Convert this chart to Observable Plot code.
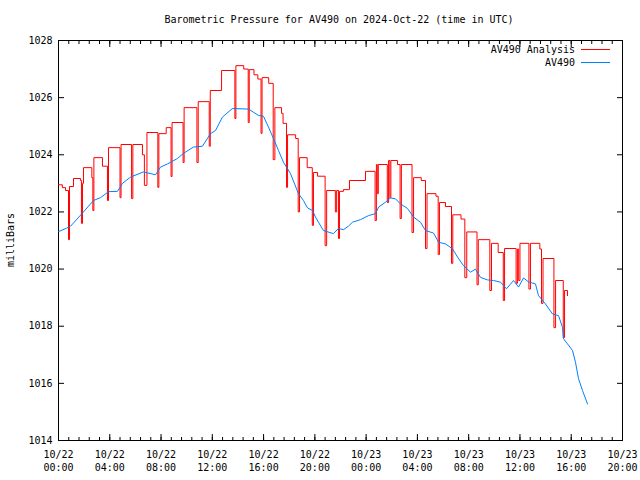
<!DOCTYPE html>
<html><head><meta charset="utf-8">
<script src="https://cdn.jsdelivr.net/npm/d3@7"></script>
<script src="https://cdn.jsdelivr.net/npm/@observablehq/plot@0.6"></script>
<style>body{margin:0;background:#fff} svg{display:block}</style>
</head><body><div id="chart"></div>
<script>
// hours since 2024-10-22 00:00 UTC
const analysisHours = [0,0.30,0.55,0.78,0.86,1.17,1.72,1.79,1.87,1.95,2.60,2.68,2.76,3.43,3.82,3.90,4.80,4.88,5.70,5.80,6.55,6.70,6.90,7.75,7.83,8.40,8.78,8.86,9.72,9.80,10.80,10.90,11.76,11.84,12.72,13.76,13.84,14.45,14.80,14.88,15.25,15.55,15.80,15.88,16.40,16.75,16.88,17.40,17.52,17.79,17.87,18.50,18.70,18.80,19.40,19.80,19.89,20.21,20.80,20.92,21.60,21.70,21.84,21.92,22.23,22.70,23.95,24.70,24.80,24.87,24.95,25.65,25.75,25.85,25.93,26.45,26.65,26.75,27.58,27.70,28.30,28.63,28.75,29.45,29.62,29.72,30.19,30.66,30.76,31.40,31.70,31.85,32.65,32.75,33.65,33.78,34.30,34.70,34.80,35.70,35.80,35.90,36.00,36.70,36.82,37.55,37.68,37.80,38.65,38.78,39.38,39.48,39.71];
const analysisValues = [1022.95,1022.85,1022.75,1021.03,1022.89,1023.17,1023.10,1021.60,1023.00,1023.55,1023.20,1022.05,1023.90,1023.60,1022.40,1024.25,1022.50,1024.36,1022.47,1024.36,1024.00,1022.93,1024.78,1022.86,1024.74,1024.95,1023.24,1025.13,1023.73,1025.65,1023.73,1025.86,1024.30,1026.25,1026.95,1025.27,1027.12,1027.00,1025.13,1026.98,1026.80,1026.65,1024.75,1026.70,1026.50,1023.83,1025.65,1025.45,1025.10,1022.86,1024.70,1024.57,1022.00,1023.90,1023.55,1021.53,1023.38,1023.25,1020.82,1022.75,1022.00,1022.75,1021.07,1022.72,1022.78,1023.10,1023.42,1021.70,1023.66,1022.64,1023.66,1022.33,1023.80,1022.50,1023.80,1023.66,1021.77,1023.66,1021.28,1023.20,1023.10,1020.72,1022.64,1022.55,1020.51,1022.33,1022.19,1020.20,1021.90,1021.75,1019.70,1021.30,1019.45,1021.03,1019.25,1020.90,1020.58,1018.90,1020.72,1019.50,1020.70,1019.60,1020.90,1019.30,1020.90,1020.70,1018.80,1020.37,1017.95,1019.60,1017.60,1019.25,1019.07];
const stationHours = [0,0.62,0.94,1.95,2.73,3.28,3.90,4.60,4.99,5.62,6.63,7.57,7.96,8.50,9.28,9.75,10.53,11.23,11.86,12.25,12.79,13.57,14.82,15.60,15.99,16.38,16.77,17.16,17.55,18.10,18.72,19.11,19.43,19.82,20.05,20.28,20.67,21.45,21.84,22.23,22.62,22.94,23.56,24.18,24.73,24.97,25.51,25.90,26.29,26.68,27.23,27.70,28.24,28.63,29.26,29.65,30.19,30.74,31.13,31.60,32.14,32.53,32.92,33.47,33.94,34.49,34.95,35.50,35.89,36.28,36.67,37.21,37.45,37.99,38.54,39.01,39.32,39.40,39.71,40.10,40.33,40.57,40.88,41.27];
const stationValues = [1021.31,1021.43,1021.5,1022.0,1022.4,1022.5,1022.71,1022.72,1023.0,1023.22,1023.4,1023.3,1023.57,1023.68,1023.87,1024.05,1024.27,1024.3,1024.74,1024.85,1025.32,1025.62,1025.6,1025.38,1025.35,1024.97,1024.57,1024.15,1023.74,1023.34,1022.64,1022.4,1022.14,1022.05,1021.82,1021.64,1021.35,1021.24,1021.42,1021.38,1021.5,1021.64,1021.73,1021.87,1021.94,1022.17,1022.34,1022.49,1022.46,1022.28,1022.12,1021.82,1021.64,1021.35,1021.26,1020.94,1020.88,1020.71,1020.42,1020.12,1019.89,1020.0,1019.71,1019.62,1019.6,1019.54,1019.31,1019.6,1019.37,1019.69,1019.55,1019.48,1019.07,1018.78,1018.43,1018.37,1017.96,1017.56,1017.38,1017.15,1016.74,1016.16,1015.75,1015.28];
const yTicks = [1014,1016,1018,1020,1022,1024,1026,1028];
const xMajorHours = [0,4,8,12,16,20,24,28,32,36,40,44];
const xMinorStepHours = 0.8;
const seriesNames = ["AV490 Analysis", "AV490"];
const seriesColors = ["#ff0000", "#0080ff"];
const titleText = "Barometric Pressure for AV490 on 2024-Oct-22 (time in UTC)";
const yLabelText = "milliBars";

const startUTC = Date.UTC(2024, 9, 22);
const toDate = h => new Date(startUTC + h * 3600e3);
const analysis = analysisHours.map((h, i) => ({t: toDate(h), p: analysisValues[i]}));
const station = stationHours.map((h, i) => ({t: toDate(h), p: stationValues[i]}));
const majorDates = xMajorHours.map(toDate);
const minorDates = d3.range(0, 44.001, xMinorStepHours).map(toDate);
const font = "'DejaVu Sans Mono', monospace";
const fmt = d3.utcFormat("%m/%d\n%H:%M");
const blank = () => "";

const chart = Plot.plot({
  width: 640, height: 480,
  marginTop: 40, marginBottom: 40, marginLeft: 58, marginRight: 18,
  style: {fontFamily: font, fontSize: "10px", background: "#fff", color: "#000"},
  x: {type: "utc", domain: [toDate(0), toDate(44)]},
  y: {domain: [1014, 1028]},
  marks: [
    Plot.axisX(majorDates, {anchor: "bottom", tickSize: 0, tickPadding: 8, tickFormat: fmt, lineHeight: 1.3, label: null}),
    Plot.axisX(majorDates, {anchor: "bottom", tickSize: -6, tickFormat: blank, label: null}),
    Plot.axisX(majorDates, {anchor: "top", tickSize: -6, tickFormat: blank, label: null}),
    Plot.axisX(minorDates, {anchor: "bottom", tickSize: -3, tickFormat: blank, label: null}),
    Plot.axisX(minorDates, {anchor: "top", tickSize: -3, tickFormat: blank, label: null}),
    Plot.axisY(yTicks, {anchor: "left", tickSize: 0, tickPadding: 6, tickFormat: d => String(d), label: null}),
    Plot.axisY(yTicks, {anchor: "left", tickSize: -6, tickFormat: blank, label: null}),
    Plot.axisY(yTicks, {anchor: "right", tickSize: -6, tickFormat: blank, label: null}),
    Plot.frame({stroke: "#000", strokeWidth: 1}),
    Plot.line(analysis, {x: "t", y: "p", stroke: seriesColors[0], strokeWidth: 1, curve: "step-after"}),
    Plot.line(station, {x: "t", y: "p", stroke: seriesColors[1], strokeWidth: 1, curve: "linear"})
  ]
});

const svg = d3.select(chart);
svg.append("text").attr("x", 339).attr("y", 23).attr("text-anchor", "middle")
  .attr("font-family", font).attr("font-size", 10).attr("fill", "#000").text(titleText);
svg.append("text").attr("transform", "translate(14,240) rotate(-90)").attr("text-anchor", "middle")
  .attr("font-family", font).attr("font-size", 10).attr("fill", "#000").text(yLabelText);
seriesNames.forEach((name, i) => {
  const y = 49 + i * 13;
  svg.append("text").attr("x", 575).attr("y", y + 3.5).attr("text-anchor", "end")
    .attr("font-family", font).attr("font-size", 10).attr("fill", "#000").text(name);
  svg.append("line").attr("x1", 581).attr("x2", 610).attr("y1", y + 0.5).attr("y2", y + 0.5)
    .attr("stroke", seriesColors[i]).attr("stroke-width", 1);
});
document.getElementById("chart").appendChild(chart);
</script>
</body></html>
